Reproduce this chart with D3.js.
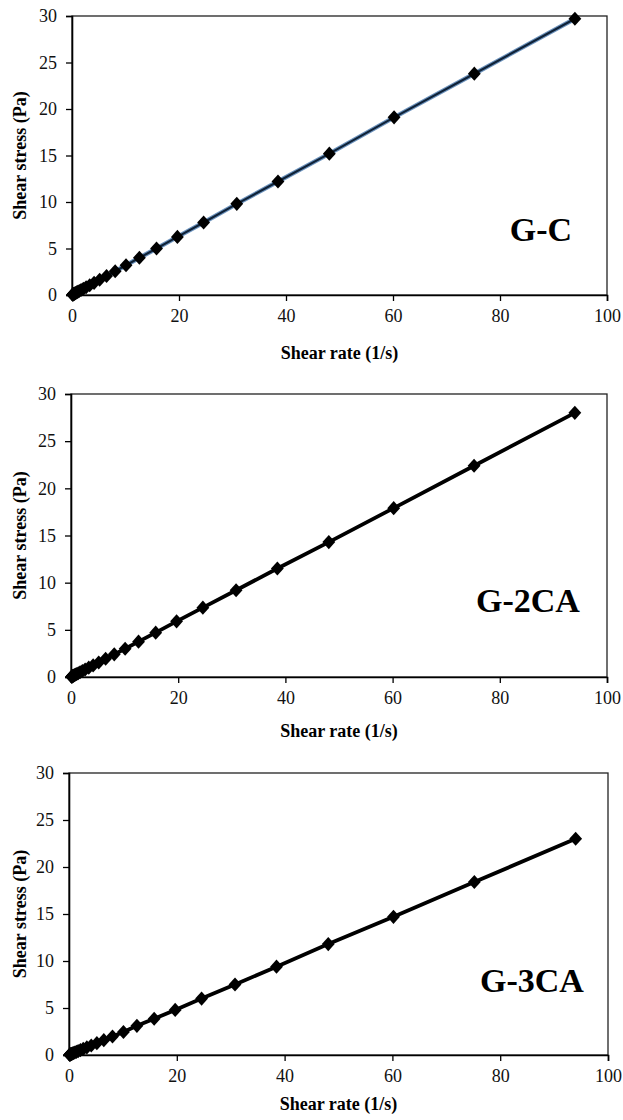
<!DOCTYPE html>
<html><head><meta charset="utf-8">
<script src="https://cdn.jsdelivr.net/npm/d3@7"></script>
<style>body{margin:0;background:#fff}svg{display:block}</style>
</head><body>
<script>
const shearRate = [94.0, 75.2, 60.2, 48.1, 38.5, 30.8, 24.6, 19.7, 15.8, 12.6, 10.1, 8.07, 6.46, 5.17, 4.13, 3.31, 2.64, 2.12, 1.69, 1.35, 1.08, 0.87, 0.69, 0.55, 0.44, 0.35, 0.28, 0.23, 0.18, 0.14, 0.11];
const stressGC   = [29.7, 23.8, 19.1, 15.2, 12.2, 9.8, 7.8, 6.25, 5.0, 4.0, 3.2, 2.55, 2.05, 1.64, 1.31, 1.05, 0.84, 0.67, 0.54, 0.43, 0.34, 0.28, 0.22, 0.18, 0.14, 0.11, 0.09, 0.07, 0.06, 0.05, 0.04];
const stressG2CA = [28.0, 22.4, 17.9, 14.3, 11.5, 9.2, 7.35, 5.9, 4.7, 3.75, 3.0, 2.4, 1.93, 1.54, 1.23, 0.99, 0.79, 0.63, 0.5, 0.4, 0.32, 0.26, 0.21, 0.16, 0.13, 0.1, 0.08, 0.07, 0.05, 0.04, 0.03];
const stressG3CA = [23.0, 18.4, 14.7, 11.8, 9.4, 7.5, 6.0, 4.8, 3.85, 3.1, 2.45, 1.97, 1.58, 1.26, 1.01, 0.81, 0.65, 0.52, 0.41, 0.33, 0.26, 0.21, 0.17, 0.13, 0.11, 0.09, 0.07, 0.06, 0.04, 0.03, 0.03];
const xTicks = [0, 20, 40, 60, 80, 100];
const yTicks = [0, 5, 10, 15, 20, 25, 30];
const panelNames = ["G-C", "G-2CA", "G-3CA"];
const xTitle = "Shear rate (1/s)";
const yTitle = "Shear stress (Pa)";

const panels = [
  {name: panelNames[0], ys: stressGC,   x0: 72, x1: 607, y0: 16,  y1: 295, blue: true,  lx: 541, ly: 241, tdy: 64},
  {name: panelNames[1], ys: stressG2CA, x0: 71, x1: 607, y0: 394, y1: 677, blue: false, lx: 528, ly: 612, tdy: 60},
  {name: panelNames[2], ys: stressG3CA, x0: 69, x1: 608, y0: 773, y1: 1055, blue: false, lx: 532, ly: 992, tdy: 55}
];

const svg = d3.select("body").append("svg").attr("width", 623).attr("height", 1120);
const font = "'Liberation Serif', 'Times New Roman', serif";

panels.forEach(p => {
  const x = d3.scaleLinear().domain([0, 100]).range([p.x0, p.x1]);
  const y = d3.scaleLinear().domain([0, 30]).range([p.y1, p.y0]);
  const g = svg.append("g");

  g.append("rect").attr("x", p.x0).attr("y", p.y0).attr("width", p.x1 - p.x0).attr("height", p.y1 - p.y0)
    .attr("fill", "none").attr("stroke", "#222").attr("stroke-width", 1.3);

  const xa = g.append("g").attr("transform", `translate(0,${p.y1})`)
    .call(d3.axisBottom(x).tickValues(xTicks).tickSize(6).tickPadding(8).tickFormat(d3.format("d")));
  const ya = g.append("g").attr("transform", `translate(${p.x0},0)`)
    .call(d3.axisLeft(y).tickValues(yTicks).tickSize(6).tickPadding(9).tickFormat(d3.format("d")));
  [xa, ya].forEach(a => {
    a.select(".domain").attr("stroke", "#000").attr("stroke-width", 1.6);
    a.selectAll(".tick line").attr("stroke", "#000").attr("stroke-width", 1.3);
    a.selectAll("text").attr("font-family", font).attr("font-size", 18).attr("fill", "#111");
  });

  const line = d3.line().x((d, i) => x(shearRate[i])).y(d => y(d));
  if (p.blue) {
    g.append("path").datum(p.ys).attr("d", line).attr("fill", "none").attr("stroke", "#6d93bd").attr("stroke-width", 4.5);
    g.append("path").datum(p.ys).attr("d", line).attr("fill", "none").attr("stroke", "#0f2238").attr("stroke-width", 2.2);
  } else {
    g.append("path").datum(p.ys).attr("d", line).attr("fill", "none").attr("stroke", "#000").attr("stroke-width", 3.8);
  }
  g.selectAll("path.pt").data(p.ys).enter().append("path").attr("class", "pt")
    .attr("d", d3.symbol().type(d3.symbolDiamond2).size(105))
    .attr("transform", (d, i) => `translate(${x(shearRate[i])},${y(d)}) scale(1,1.1)`)
    .attr("fill", "#000");

  g.append("text").attr("x", (p.x0 + p.x1) / 2).attr("y", p.y1 + p.tdy).attr("text-anchor", "middle")
    .attr("font-family", font).attr("font-weight", "bold").attr("font-size", 18).text(xTitle);
  g.append("text").attr("transform", `translate(26,${(p.y0 + p.y1) / 2}) rotate(-90)`).attr("text-anchor", "middle")
    .attr("font-family", font).attr("font-weight", "bold").attr("font-size", 18).text(yTitle);
  g.append("text").attr("x", p.lx).attr("y", p.ly).attr("text-anchor", "middle")
    .attr("font-family", font).attr("font-weight", "bold").attr("font-size", 34).text(p.name);
});
</script>
</body></html>
